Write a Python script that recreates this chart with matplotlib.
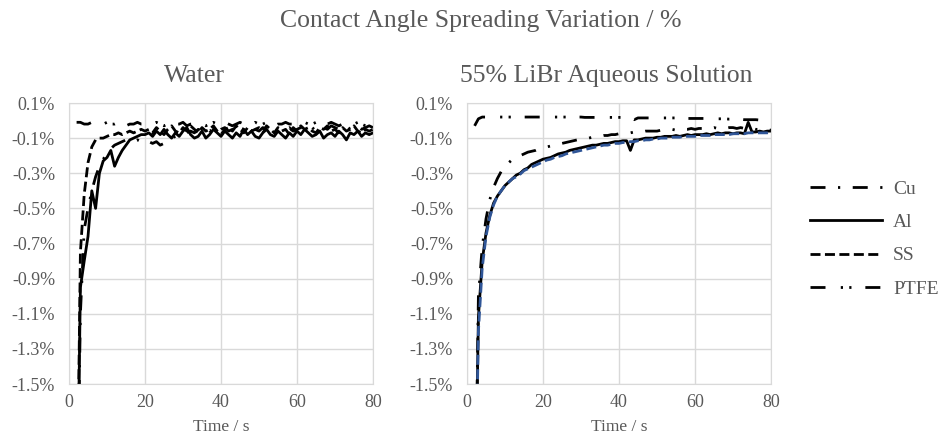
import matplotlib
matplotlib.use("Agg")
import matplotlib.pyplot as plt
import numpy as np
from matplotlib.ticker import FuncFormatter

plt.rcParams['font.family'] = ['Liberation Serif', 'DejaVu Serif']
plt.rcParams['lines.scale_dashes'] = False

# time axis (s), one reading per second
time_s = np.arange(2, 81)

# Water: spreading variation (%)
water_cu = [-2.5, -1.1, -0.62, -0.50, -0.40, -0.32, -0.26, -0.22, -0.19, -0.16,
            -0.14, -0.13, -0.12, -0.11, -0.11, -0.12, -0.11, -0.12, -0.13,
            -0.12, -0.13, -0.12, -0.14, -0.13, -0.12, -0.10, -0.09, -0.08, -0.08,
            -0.07, -0.06, -0.07, -0.05, -0.06, -0.04, -0.06, -0.05, -0.07, -0.05,
            -0.04, -0.06, -0.05, -0.07, -0.04, -0.05, -0.06, -0.04, -0.05, -0.06,
            -0.04, -0.05, -0.03, -0.05, -0.06, -0.04, -0.05, -0.04, -0.06, -0.05,
            -0.04, -0.05, -0.03, -0.04, -0.06, -0.05, -0.04, -0.05, -0.03, -0.04,
            -0.05, -0.04, -0.03, -0.05, -0.04, -0.03, -0.05, -0.04, -0.03, -0.04]
water_al = [-2.5, -0.95, -0.80, -0.66, -0.40, -0.50, -0.30, -0.23, -0.21, -0.17,
            -0.26, -0.21, -0.17, -0.14, -0.11, -0.10, -0.09, -0.08, -0.08,
            -0.07, -0.09, -0.06, -0.08, -0.05, -0.08, -0.10, -0.07, -0.09, -0.06,
            -0.04, -0.08, -0.10, -0.09, -0.06, -0.10, -0.08, -0.05, -0.07, -0.09,
            -0.06, -0.08, -0.10, -0.07, -0.09, -0.05, -0.08, -0.06, -0.09, -0.10,
            -0.07, -0.05, -0.08, -0.09, -0.06, -0.08, -0.10, -0.07, -0.09, -0.06,
            -0.08, -0.05, -0.07, -0.09, -0.08, -0.06, -0.10, -0.08, -0.07, -0.09,
            -0.06, -0.08, -0.11, -0.07, -0.08, -0.06, -0.09, -0.07, -0.08, -0.07]
water_ss = [-2.5, -0.75, -0.42, -0.24, -0.15, -0.11, -0.10, -0.10, -0.09, -0.08,
            -0.08, -0.07, -0.08, -0.07, -0.06, -0.07, -0.06, -0.05, -0.06,
            -0.05, -0.07, -0.04, -0.06, -0.08, -0.05, -0.03, -0.06, -0.07, -0.04,
            -0.06, -0.03, -0.05, -0.07, -0.04, -0.06, -0.05, -0.03, -0.06, -0.08,
            -0.05, -0.04, -0.06, -0.03, -0.05, -0.07, -0.04, -0.06, -0.05, -0.04,
            -0.06, -0.03, -0.05, -0.07, -0.04, -0.06, -0.05, -0.08, -0.04, -0.06,
            -0.03, -0.05, -0.04, -0.06, -0.07, -0.04, -0.05, -0.03, -0.06, -0.05,
            -0.07, -0.04, -0.06, -0.05, -0.03, -0.06, -0.07, -0.05, -0.06, -0.05]
water_ptfe = [-0.01, -0.01, -0.02, -0.02, -0.01, -0.02, -0.03, -0.02, -0.01, -0.02,
              -0.02, -0.01, -0.02, -0.03, -0.02, -0.02, -0.01, -0.02, -0.02, -0.03,
              -0.02, -0.01, -0.02, -0.03, -0.02, -0.01, -0.02, -0.02, -0.01, -0.03,
              -0.02, -0.02, -0.01, -0.02, -0.03, -0.02, -0.01, -0.02, -0.02, -0.01,
              -0.02, -0.03, -0.02, -0.01, -0.02, -0.02, -0.03, -0.01, -0.02, -0.02,
              -0.01, -0.02, -0.03, -0.02, -0.02, -0.01, -0.02, -0.02, -0.03, -0.02,
              -0.01, -0.02, -0.02, -0.01, -0.03, -0.02, -0.02, -0.01, -0.02, -0.03,
              -0.02, -0.01, -0.02, -0.02, -0.01, -0.02, -0.03, -0.02, -0.02]

# 55% LiBr aqueous solution: spreading variation (%)
libr_cu = [-2.5, -1.0, -0.72, -0.56, -0.45, -0.38, -0.33, -0.29, -0.26, -0.24,
           -0.22, -0.21, -0.20, -0.19, -0.18, -0.175, -0.17, -0.16, -0.155, -0.15,
           -0.145, -0.14, -0.135, -0.13, -0.125, -0.12, -0.115, -0.11, -0.105, -0.10,
           -0.10, -0.095, -0.09, -0.09, -0.085, -0.085, -0.08, -0.08, -0.075, -0.075,
           -0.07, -0.07, -0.065, -0.065, -0.065, -0.06, -0.06, -0.06, -0.06, -0.055,
           -0.055, -0.055, -0.05, -0.055, -0.05, -0.05, -0.05, -0.045, -0.05, -0.045,
           -0.045, -0.05, -0.045, -0.04, -0.045, -0.04, -0.045, -0.04, -0.04, -0.045,
           -0.04, -0.045, -0.05, -0.045, -0.05, -0.05, -0.055, -0.05, -0.055]
libr_al = [-2.5, -1.12, -0.80, -0.64, -0.54, -0.47, -0.43, -0.40, -0.37, -0.35,
           -0.33, -0.31, -0.30, -0.28, -0.27, -0.25, -0.24, -0.23, -0.22, -0.215,
           -0.21, -0.20, -0.19, -0.185, -0.18, -0.17, -0.165, -0.16, -0.155, -0.15,
           -0.145, -0.14, -0.14, -0.135, -0.13, -0.13, -0.125, -0.12, -0.12, -0.115,
           -0.115, -0.17, -0.11, -0.11, -0.105, -0.10, -0.10, -0.10, -0.095, -0.095,
           -0.09, -0.09, -0.09, -0.085, -0.09, -0.085, -0.08, -0.085, -0.08, -0.08,
           -0.08, -0.075, -0.08, -0.075, -0.07, -0.075, -0.07, -0.07, -0.075, -0.07,
           -0.07, -0.075, -0.01, -0.065, -0.065, -0.06, -0.065, -0.06, -0.06]
libr_ss = [-2.5, -1.2, -0.84, -0.66, -0.55, -0.48, -0.43, -0.40, -0.37, -0.35,
           -0.33, -0.32, -0.305, -0.285, -0.275, -0.265, -0.255, -0.245, -0.235, -0.225,
           -0.22, -0.21, -0.205, -0.20, -0.19, -0.185, -0.18, -0.175, -0.17, -0.165,
           -0.16, -0.155, -0.15, -0.145, -0.14, -0.14, -0.135, -0.13, -0.13, -0.125,
           -0.125, -0.12, -0.12, -0.115, -0.115, -0.11, -0.11, -0.105, -0.105, -0.10,
           -0.10, -0.10, -0.095, -0.095, -0.095, -0.09, -0.09, -0.09, -0.09, -0.085,
           -0.085, -0.085, -0.085, -0.08, -0.08, -0.08, -0.08, -0.08, -0.075, -0.075,
           -0.075, -0.075, -0.07, -0.07, -0.07, -0.07, -0.07, -0.07, -0.065]
libr_ptfe = [-0.03, 0.01, 0.02, 0.02, 0.025, 0.02, 0.02, 0.02, 0.02, 0.02,
             0.02, 0.02, 0.02, 0.02, 0.02, 0.02, 0.02, 0.02, 0.02, 0.02,
             0.02, 0.02, 0.02, 0.02, 0.02, 0.02, 0.02, 0.02, 0.02, 0.018,
             0.018, 0.018, 0.018, 0.018, 0.018, 0.018, 0.018, 0.018, 0.018, 0.018,
             0.018, 0.015, 0.005, 0.015, 0.015, 0.015, 0.015, 0.015, 0.015, 0.015,
             0.015, 0.015, 0.015, 0.015, 0.015, 0.015, 0.012, 0.012, 0.012, 0.012,
             0.012, 0.012, 0.01, 0.01, 0.01, 0.01, 0.01, 0.008, 0.008, 0.008,
             0.008, 0.005, 0.005, 0.005, 0.005, 0.003, 0.003, 0.003, 0.003]

series_names = ["Cu", "Al", "SS", "PTFE"]
panel_titles = ["Water", "55% LiBr Aqueous Solution"]
y_ticks = [0.1, -0.1, -0.3, -0.5, -0.7, -0.9, -1.1, -1.3, -1.5]
x_ticks = [0, 20, 40, 60, 80]

TEXT = "#595959"
GRID = "#D9D9D9"
LW = 2.0

# dash patterns in points
styles = {
    "Cu": (0, (10.8, 9.0, 1.6, 9.0)),
    "Al": "-",
    "SS": (0, (7.2, 3.2)),
    "PTFE": (0, (10.8, 11.0, 1.6, 4.5, 1.6, 10.0)),
}

fig = plt.figure(figsize=(9.42, 4.36), dpi=100)
ax_w = fig.add_axes([69 / 942, 1 - 384 / 436, 304 / 942, 281 / 436])
ax_l = fig.add_axes([467 / 942, 1 - 384 / 436, 304 / 942, 281 / 436])

panels = [
    (ax_w, [water_cu, water_al, water_ss, water_ptfe], ["black"] * 4),
    (ax_l, [libr_cu, libr_al, libr_ss, libr_ptfe], ["black", "black", "#2F5597", "black"]),
]

pct = FuncFormatter(lambda v, p: f"{v:.1f}%")
for ax, data, colors in panels:
    for name, vals, col in zip(series_names, data, colors):
        ax.plot(time_s, vals, color=col, lw=LW, linestyle=styles[name])
    ax.set_xlim(0, 80)
    ax.set_ylim(-1.5, 0.1)
    ax.set_xticks(x_ticks)
    ax.set_yticks(y_ticks)
    ax.yaxis.set_major_formatter(pct)
    ax.grid(True, color=GRID, lw=1.0)
    ax.set_axisbelow(True)
    for sp in ax.spines.values():
        sp.set_color(GRID)
    ax.tick_params(length=0, labelsize=13, colors=TEXT)
    ax.tick_params(axis="y", pad=10)
    ax.tick_params(axis="x", pad=7)
    ax.set_xlabel("Time / s", fontsize=12.5, color=TEXT, labelpad=6)

fig.text(194 / 942, 1 - 82 / 436, panel_titles[0], fontsize=18.5,
         color=TEXT, ha="center", va="baseline")
fig.text(606 / 942, 1 - 82 / 436, panel_titles[1], fontsize=18.5,
         color=TEXT, ha="center", va="baseline")
fig.text(481 / 942, 1 - 27 / 436, "Contact Angle Spreading Variation / %", fontsize=18.5,
         color=TEXT, ha="center", va="baseline")

# legend built from the drawn lines of the water panel
handles = ax_w.get_lines()
leg = fig.legend(handles, series_names, loc="center left",
                 bbox_to_anchor=(810 / 942, 1 - 239 / 436), frameon=False,
                 fontsize=14, handlelength=3.7, handletextpad=0.57,
                 labelspacing=0.8, borderpad=0, borderaxespad=0)
for txt in leg.get_texts():
    txt.set_color(TEXT)

fig.savefig("out.png", dpi=100)
